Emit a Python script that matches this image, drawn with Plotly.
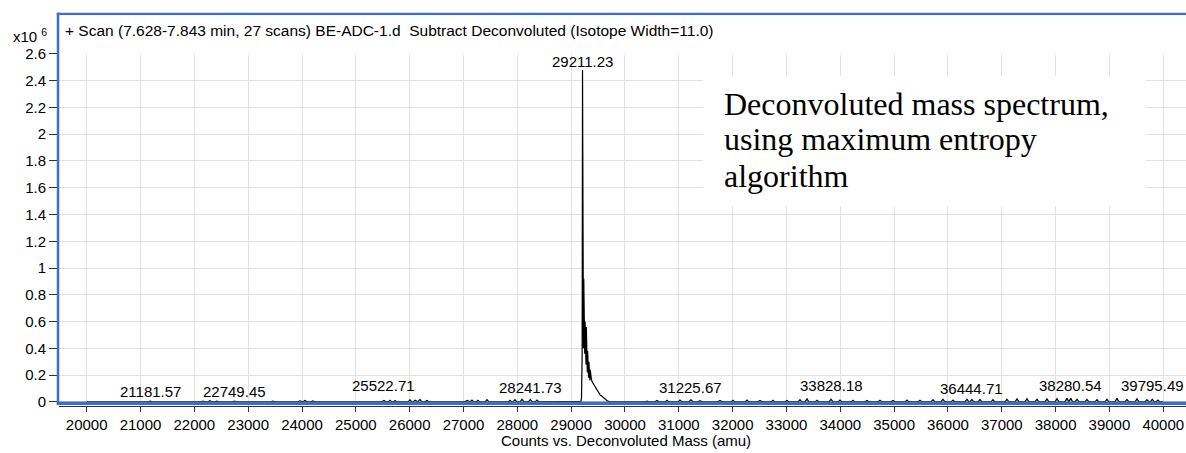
import plotly.graph_objects as go

# ---------------- data (counts in units of 10^6) ----------------
# main peak cluster (mass in amu, counts x10^6)
main_mass = [29150, 29180, 29192, 29198, 29204, 29211.23, 29216, 29222, 29228, 29234,
             29240, 29246, 29252, 29258, 29264, 29270, 29276, 29282, 29288, 29294,
             29300, 29306, 29312, 29318, 29324, 29330, 29336, 29342, 29348, 29354,
             29362, 29375, 29390, 29405, 29420, 29440, 29460, 29480, 29500, 29520,
             29540, 29560, 29590, 29620, 29650, 29680, 29720]
main_counts = [0.0, 0.004, 0.03, 0.21, 0.35, 2.48, 0.45, 0.98, 0.40, 0.92,
               0.38, 0.80, 0.36, 0.60, 0.30, 0.58, 0.28, 0.56, 0.26, 0.42,
               0.22, 0.38, 0.20, 0.37, 0.18, 0.30, 0.17, 0.27, 0.16, 0.24,
               0.20, 0.17, 0.15, 0.14, 0.12, 0.11, 0.10, 0.085, 0.075, 0.06,
               0.05, 0.045, 0.035, 0.02, 0.012, 0.005, 0.0]

# small baseline peaks (mass in amu, counts x10^6)
noise_mass = [21181.57, 22160, 22290, 22420, 22749.45, 23460, 23960, 24055, 24200,
              25522.71, 25635, 25727, 26006, 26100, 26190, 26320, 27065, 27157, 27268,
              27436, 27863, 27956, 28086, 28241.73, 28365, 30408, 30594, 30780, 31021,
              31225.67, 31393, 31765, 32006, 32266, 32508, 32749, 33009, 33251, 33381,
              33567, 33828.18, 33994, 34235, 34495, 34737, 34978, 35238, 35480, 35721,
              35907, 36093, 36353, 36444.71, 36595, 36836, 37096, 37282, 37467, 37653,
              37839, 38025, 38211, 38280.54, 38397, 38583, 38768, 38954, 39140, 39326,
              39511, 39697, 39795.49, 39900]
noise_counts = [0.006, 0.006, 0.008, 0.005, 0.006, 0.006, 0.008, 0.010, 0.007,
                0.010, 0.012, 0.008, 0.015, 0.012, 0.018, 0.010, 0.010, 0.014, 0.012,
                0.016, 0.012, 0.016, 0.020, 0.018, 0.014, 0.006, 0.010, 0.012, 0.014,
                0.016, 0.008, 0.010, 0.012, 0.014, 0.010, 0.012, 0.010, 0.016, 0.022,
                0.012, 0.020, 0.014, 0.012, 0.010, 0.012, 0.010, 0.014, 0.012, 0.016,
                0.020, 0.014, 0.020, 0.018, 0.018, 0.016, 0.020, 0.022, 0.024, 0.020,
                0.022, 0.024, 0.026, 0.026, 0.020, 0.018, 0.016, 0.020, 0.026, 0.018,
                0.022, 0.016, 0.020, 0.014]

# labelled peaks and label heights (counts x10^6)
label_mass = [21181.57, 22749.45, 25522.71, 28241.73, 29211.23, 31225.67,
              33828.18, 36444.71, 38280.54, 39795.49]
label_text = ["21181.57", "22749.45", "25522.71", "28241.73", "29211.23", "31225.67",
              "33828.18", "36444.71", "38280.54", "39795.49"]
label_y = [0.081, 0.081, 0.123, 0.104, 2.545, 0.104, 0.123, 0.100, 0.123, 0.123]

x_ticks = list(range(20000, 40001, 1000))
x_tick_text = [str(v) for v in x_ticks]
y_ticks = [0, 0.2, 0.4, 0.6, 0.8, 1, 1.2, 1.4, 1.6, 1.8, 2, 2.2, 2.4, 2.6]
y_tick_text = ["0", "0.2", "0.4", "0.6", "0.8", "1", "1.2", "1.4", "1.6", "1.8",
               "2", "2.2", "2.4", "2.6"]

# ---------------- build profile ----------------
pts = [(20000, 0.0), (40000, 0.0)]
pts += list(zip(main_mass, main_counts))
for m, h in zip(noise_mass, noise_counts):
    pts += [(m - 35, 0.0), (m, h), (m + 35, 0.0)]
pts.sort(key=lambda p: p[0])
xs = [p[0] for p in pts]
ys = [p[1] for p in pts]

FONT = "Liberation Sans, Arial, sans-serif"
BLUE = "#3b6fce"

fig = go.Figure()
fig.add_trace(go.Scatter(x=xs, y=ys, mode="lines",
                         line=dict(color="black", width=1.2), hoverinfo="skip",
                         showlegend=False))

W, H = 1186, 453
L, R, T, B = 59, 0, 52, 47
PH = H - T - B
PW = W - L - R

# y range: 0 sits at pixel ~401.8 (under the blue frame line)
Y0, Y1 = -0.031, 2.614


def px(xp):
    return (xp - L) / PW


def py(yp):
    return (H - B - yp) / PH


ann = []
for m, t, yv in zip(label_mass, label_text, label_y):
    ann.append(dict(x=m, y=yv, xref="x", yref="y", text=t, showarrow=False,
                    xanchor="center", yanchor="middle",
                    font=dict(family=FONT, size=15, color="black")))

ann.append(dict(x=px(63), y=py(31), xref="paper", yref="paper",
                text="+ Scan (7.628-7.843 min, 27 scans) BE-ADC-1.d&nbsp;&nbsp;Subtract Deconvoluted (Isotope Width=11.0)",
                showarrow=False, xanchor="left", yanchor="middle",
                font=dict(family=FONT, size=15.5, color="black")))
ann.append(dict(x=px(11), y=py(35), xref="paper", yref="paper",
                text="x10 <sup>6</sup>", showarrow=False, xanchor="left", yanchor="middle",
                font=dict(family=FONT, size=15, color="black")))
ann.append(dict(x=px(626), y=py(440.5), xref="paper", yref="paper",
                text="Counts vs. Deconvoluted Mass (amu)", showarrow=False,
                xanchor="center", yanchor="middle",
                font=dict(family=FONT, size=15, color="black")))

box_lines = ["Deconvoluted mass spectrum,", "using maximum entropy", "algorithm"]
box_centers = [103.5, 139.2, 176.2]
for t, c in zip(box_lines, box_centers):
    ann.append(dict(x=px(722), y=py(c), xref="paper", yref="paper", text=t,
                    showarrow=False, xanchor="left", yanchor="middle",
                    font=dict(family="Liberation Serif, Times New Roman, serif",
                              size=32, color="black")))

shapes = [
    # hide 2.6 gridline
    dict(type="line", xref="paper", yref="y", x0=0, x1=1, y0=2.6, y1=2.6,
         line=dict(color="white", width=2), layer="above"),
    # white text box
    dict(type="rect", xref="paper", yref="paper", x0=px(703), x1=px(1146),
         y0=py(206.5), y1=py(75.7), fillcolor="white", line=dict(width=0),
         layer="above"),
    # blue frame
    dict(type="line", xref="paper", yref="paper", x0=px(58), x1=px(58),
         y0=py(404.5), y1=py(12.8), line=dict(color=BLUE, width=2.5), layer="above"),
    dict(type="line", xref="paper", yref="paper", x0=px(56.8), x1=px(1190),
         y0=py(13.8), y1=py(13.8), line=dict(color=BLUE, width=2.3), layer="above"),
    dict(type="line", xref="paper", yref="paper", x0=px(56.8), x1=px(1190),
         y0=py(403.2), y1=py(403.2), line=dict(color=BLUE, width=3.4), layer="above"),
]

fig.update_layout(
    width=W, height=H,
    margin=dict(l=L, r=R, t=T, b=B, pad=0, autoexpand=False),
    paper_bgcolor="white", plot_bgcolor="white",
    annotations=ann, shapes=shapes,
    xaxis=dict(range=[19485.4, 40422], tickvals=x_ticks, ticktext=x_tick_text,
               ticks="outside", ticklen=5, tickcolor="#333", tickwidth=1,
               showline=True, linecolor="#333", linewidth=1, automargin=False,
               showgrid=True, gridcolor="#e2e2e2", gridwidth=1, zeroline=False,
               tickfont=dict(family=FONT, size=15, color="black")),
    yaxis=dict(range=[Y0, Y1], tickvals=y_ticks, ticktext=y_tick_text,
               ticks="outside", ticklen=9, tickcolor="#333", tickwidth=1,
               showline=False, showgrid=True, gridcolor="#e2e2e2", gridwidth=1,
               zeroline=False, automargin=False,
               tickfont=dict(family=FONT, size=15, color="black")),
)

fig.write_html("out.html", config={"displayModeBar": False},
               post_script="document.body.style.margin='0';document.body.style.overflow='hidden';")
